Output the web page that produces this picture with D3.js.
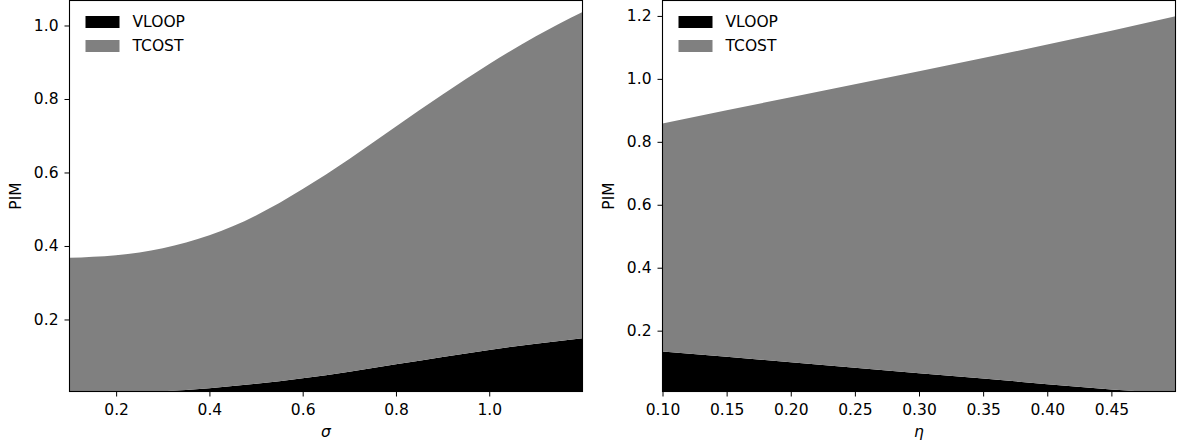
<!DOCTYPE html>
<html>
<head>
<meta charset="utf-8">
<script src="https://cdn.jsdelivr.net/npm/d3@7"></script>
<style>
  html, body { margin: 0; padding: 0; background: #fff; }
  svg { display: block; font-family: "DejaVu Sans", sans-serif; }
</style>
</head>
<body>
<svg id="chart" width="1182" height="445"></svg>
<script>
// ---------- data ----------
const seriesNames = ["VLOOP", "TCOST"];
const seriesColors = ["#000000", "#808080"];

// left panel: PIM vs sigma
const sigmaX     = [0.1,   0.2,   0.3,   0.4,   0.5,   0.6,   0.7,   0.8,   0.9,   1.0,   1.1,   1.2];
const sigmaVLOOP = [0.000, 0.001, 0.005, 0.013, 0.025, 0.040, 0.058, 0.078, 0.098, 0.117, 0.134, 0.149];
const sigmaTCOST = [0.368, 0.374, 0.389, 0.416, 0.458, 0.515, 0.579, 0.647, 0.714, 0.778, 0.837, 0.888];
const sigmaXTicks = [0.2, 0.4, 0.6, 0.8, 1.0];
const sigmaYTicks = [0.2, 0.4, 0.6, 0.8, 1.0];

// right panel: PIM vs eta
const etaX     = [0.10,  0.15,  0.20,  0.25,  0.30,  0.35,  0.40,  0.45,  0.50];
const etaVLOOP = [0.134, 0.117, 0.100, 0.082, 0.065, 0.048, 0.030, 0.013, 0.000];
const etaTCOST = [0.724, 0.783, 0.842, 0.901, 0.959, 1.018, 1.079, 1.140, 1.199];
const etaXTicks = [0.10, 0.15, 0.20, 0.25, 0.30, 0.35, 0.40, 0.45];
const etaYTicks = [0.2, 0.4, 0.6, 0.8, 1.0, 1.2];

// ---------- drawing ----------
const svg = d3.select("#chart");

function panel(opts) {
  const { left, right, top, bottom, xDomain, yDomain, xs, vloop, tcost,
          xTicks, yTicks, xFmt, yFmt, xLabel, curve, id } = opts;
  const x = d3.scaleLinear().domain(xDomain).range([left, right]);
  const y = d3.scaleLinear().domain(yDomain).range([bottom, top]);

  const rows = xs.map((v, i) => ({ x: v, VLOOP: vloop[i], TCOST: tcost[i] }));
  const stacked = d3.stack().keys(seriesNames)(rows);

  svg.append("clipPath").attr("id", id)
    .append("rect").attr("x", left).attr("y", top)
    .attr("width", right - left).attr("height", bottom - top);

  const area = d3.area()
    .x(d => x(d.data.x))
    .y0(d => y(d[0]))
    .y1(d => y(d[1]))
    .curve(curve);

  const g = svg.append("g").attr("clip-path", `url(#${id})`);
  g.selectAll("path").data(stacked).join("path")
    .attr("d", area)
    .attr("fill", (d, i) => seriesColors[i]);

  // axes
  const xAxis = d3.axisBottom(x).tickValues(xTicks).tickFormat(xFmt).tickSize(5).tickPadding(7);
  const yAxis = d3.axisLeft(y).tickValues(yTicks).tickFormat(yFmt).tickSize(5).tickPadding(6);

  const gx = svg.append("g").attr("transform", `translate(0,${bottom})`).call(xAxis);
  const gy = svg.append("g").attr("transform", `translate(${left},0)`).call(yAxis);
  [gx, gy].forEach(a => {
    a.select(".domain").remove();
    a.selectAll(".tick line").attr("stroke", "#000").attr("stroke-width", 1);
    a.selectAll(".tick text").attr("fill", "#000")
      .style("font-family", "'DejaVu Sans', sans-serif").style("font-size", "15.5px");
  });

  // frame
  svg.append("rect")
    .attr("x", left).attr("y", top)
    .attr("width", right - left).attr("height", bottom - top)
    .attr("fill", "none").attr("stroke", "#000").attr("stroke-width", 1.1);

  // axis labels
  svg.append("text")
    .attr("x", (left + right) / 2).attr("y", 437)
    .attr("text-anchor", "middle")
    .style("font-size", "15.5px").style("font-style", "italic")
    .text(xLabel);
  svg.append("text")
    .attr("transform", `translate(${opts.yLabelX},${(top + bottom) / 2}) rotate(-90)`)
    .attr("text-anchor", "middle")
    .style("font-size", "15.5px")
    .text("PIM");

  // legend
  const lg = svg.append("g").attr("transform", `translate(${left + 16},16)`);
  seriesNames.forEach((name, i) => {
    lg.append("rect").attr("x", 0).attr("y", i * 24)
      .attr("width", 34).attr("height", 12).attr("fill", seriesColors[i]);
    lg.append("text").attr("x", 47).attr("y", i * 24 + 6).attr("dy", "0.35em")
      .style("font-size", "15.5px").text(name);
  });
}

panel({
  id: "clipL", left: 69.5, right: 582.5, top: 0.5, bottom: 391.5,
  xDomain: [0.1, 1.2], yDomain: [0.004, 1.068],
  xs: sigmaX, vloop: sigmaVLOOP, tcost: sigmaTCOST,
  xTicks: sigmaXTicks, yTicks: sigmaYTicks,
  xFmt: d3.format(".1f"), yFmt: d3.format(".1f"),
  xLabel: "σ", yLabelX: 21, curve: d3.curveNatural
});

panel({
  id: "clipR", left: 662.5, right: 1175.5, top: 0.5, bottom: 391.5,
  xDomain: [0.1, 0.5], yDomain: [0.0067, 1.249],
  xs: etaX, vloop: etaVLOOP, tcost: etaTCOST,
  xTicks: etaXTicks, yTicks: etaYTicks,
  xFmt: d3.format(".2f"), yFmt: d3.format(".1f"),
  xLabel: "η", yLabelX: 614, curve: d3.curveLinear
});
</script>
</body>
</html>
